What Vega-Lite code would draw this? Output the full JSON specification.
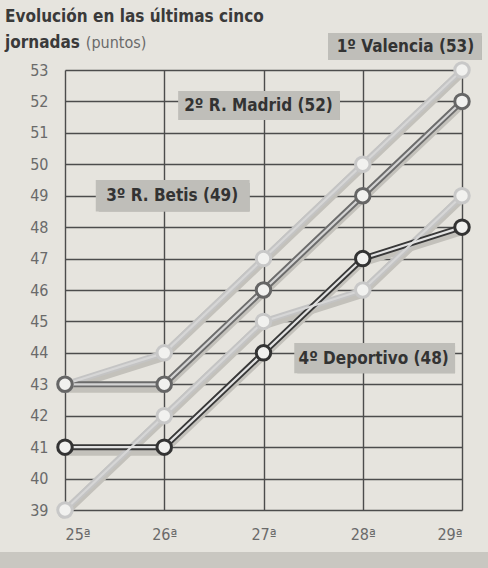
{
  "$schema": "https://vega.github.io/schema/vega-lite/v6.json",
  "autosize": {"type": "none"},
  "width": 397,
  "height": 440,
  "padding": {"left": 65, "top": 70, "right": 26, "bottom": 58},
  "background": "#e6e4de",
  "title": {
    "text": ["Evolución en las últimas cinco", "jornadas"],
    "anchor": "start",
    "frame": "group",
    "dx": -60,
    "dy": 31,
    "offset": 12,
    "font": "Liberation Sans Narrow, DejaVu Sans Condensed, sans-serif",
    "fontSize": 17,
    "fontWeight": "bold",
    "color": "#3a3a3a",
    "lineHeight": 26
  },
  "datasets": {
    "teams": [
      {"series": "Valencia", "round": 25, "points": 43},
      {"series": "Valencia", "round": 26, "points": 44},
      {"series": "Valencia", "round": 27, "points": 47},
      {"series": "Valencia", "round": 28, "points": 50},
      {"series": "Valencia", "round": 29, "points": 53},
      {"series": "Betis", "round": 25, "points": 39},
      {"series": "Betis", "round": 26, "points": 42},
      {"series": "Betis", "round": 27, "points": 45},
      {"series": "Betis", "round": 28, "points": 46},
      {"series": "Betis", "round": 29, "points": 49},
      {"series": "Madrid", "round": 25, "points": 43},
      {"series": "Madrid", "round": 26, "points": 43},
      {"series": "Madrid", "round": 27, "points": 46},
      {"series": "Madrid", "round": 28, "points": 49},
      {"series": "Madrid", "round": 29, "points": 52},
      {"series": "Deportivo", "round": 25, "points": 41},
      {"series": "Deportivo", "round": 26, "points": 41},
      {"series": "Deportivo", "round": 27, "points": 44},
      {"series": "Deportivo", "round": 28, "points": 47},
      {"series": "Deportivo", "round": 29, "points": 48}
    ],
    "labels": [
      {"label": "1º Valencia (53)", "x1": 27.65, "x2": 29.2, "y1": 54.18, "y2": 53.32, "tx": 28.43, "ty": 53.74},
      {"label": "2º R. Madrid (52)", "x1": 26.14, "x2": 27.77, "y1": 52.33, "y2": 51.41, "tx": 26.95, "ty": 51.86},
      {"label": "3º R. Betis (49)", "x1": 25.31, "x2": 26.86, "y1": 49.5, "y2": 48.5, "tx": 26.08, "ty": 48.99},
      {"label": "4º Deportivo (48)", "x1": 27.31, "x2": 28.93, "y1": 44.31, "y2": 43.35, "tx": 28.11, "ty": 43.82}
    ]
  },
  "layer": [
    {
      "data": {"values": [{"x1": 24.3, "x2": 29.4, "y1": 37.66, "y2": 36.9}]},
      "mark": {"type": "rect", "color": "#c9c7c1", "clip": false},
      "encoding": {
        "x": {
          "field": "x1", "type": "quantitative",
          "scale": {"domain": [25, 29], "nice": false, "zero": false},
          "axis": {
            "title": null, "values": [25, 26, 27, 28, 29], "tickCount": 10,
            "labelExpr": "format(datum.value, 'd') + 'ª'",
            "domain": false, "ticks": false, "grid": true,
            "labelPadding": 16, "labelOverlap": false
          }
        },
        "x2": {"field": "x2"},
        "y": {
          "field": "y1", "type": "quantitative",
          "scale": {"domain": [39, 53], "nice": false, "zero": false},
          "axis": {
            "title": null, "tickCount": 20, "format": "d",
            "values": [39, 40, 41, 42, 43, 44, 45, 46, 47, 48, 49, 50, 51, 52, 53],
            "domain": false, "ticks": false, "grid": true,
            "labelPadding": 17, "labelOverlap": false
          }
        },
        "y2": {"field": "y2"}
      }
    },
    {
      "data": {"name": "teams"},
      "mark": {"type": "line", "strokeWidth": 9, "color": "#c3c1bb", "yOffset": 4, "xOffset": -2, "strokeCap": "round", "strokeJoin": "round"},
      "encoding": {
        "x": {"field": "round", "type": "quantitative", "title": null},
        "y": {"field": "points", "type": "quantitative", "title": null},
        "detail": {"field": "series"}
      }
    },
    {
      "data": {"name": "teams"},
      "mark": {"type": "line", "strokeWidth": 6, "strokeCap": "round", "strokeJoin": "round"},
      "encoding": {
        "x": {"field": "round", "type": "quantitative", "title": null},
        "y": {"field": "points", "type": "quantitative", "title": null},
        "color": {
          "field": "series", "type": "nominal", "legend": null,
          "scale": {"domain": ["Valencia", "Betis", "Madrid", "Deportivo"], "range": ["#c4c4c4", "#c4c4c4", "#6c6c6c", "#383838"]}
        }
      }
    },
    {
      "data": {"name": "teams"},
      "mark": {"type": "line", "strokeWidth": 2.2, "strokeCap": "round", "strokeJoin": "round"},
      "encoding": {
        "x": {"field": "round", "type": "quantitative", "title": null},
        "y": {"field": "points", "type": "quantitative", "title": null},
        "color": {
          "field": "series", "type": "nominal", "legend": null,
          "scale": {"domain": ["Valencia", "Betis", "Madrid", "Deportivo"], "range": ["#d6d6d6", "#d6d6d6", "#d4d4d4", "#e2e2e2"]}
        }
      }
    },
    {
      "data": {"name": "teams"},
      "mark": {"type": "point", "shape": "circle", "filled": false, "fill": "#f1f1ef", "fillOpacity": 1, "size": 210, "strokeWidth": 3, "opacity": 1},
      "encoding": {
        "x": {"field": "round", "type": "quantitative", "title": null},
        "y": {"field": "points", "type": "quantitative", "title": null},
        "stroke": {
          "field": "series", "type": "nominal", "legend": null,
          "scale": {"domain": ["Valencia", "Betis", "Madrid", "Deportivo"], "range": ["#c8c8c8", "#c8c8c8", "#666666", "#333333"]}
        }
      }
    },
    {
      "data": {"name": "labels"},
      "mark": {"type": "rect", "color": "#a9a8a3", "xOffset": 3, "yOffset": 3, "clip": false},
      "encoding": {
        "x": {"field": "x1", "type": "quantitative", "title": null},
        "x2": {"field": "x2"},
        "y": {"field": "y1", "type": "quantitative", "title": null},
        "y2": {"field": "y2"}
      }
    },
    {
      "data": {"name": "labels"},
      "mark": {"type": "rect", "color": "#bfbeb9", "clip": false},
      "encoding": {
        "x": {"field": "x1", "type": "quantitative", "title": null},
        "x2": {"field": "x2"},
        "y": {"field": "y1", "type": "quantitative", "title": null},
        "y2": {"field": "y2"}
      }
    },
    {
      "data": {"name": "labels"},
      "mark": {"type": "text", "font": "Liberation Sans Narrow, DejaVu Sans Condensed, sans-serif", "fontSize": 17, "fontWeight": "bold", "color": "#333333", "align": "center", "baseline": "middle"},
      "encoding": {
        "x": {"field": "tx", "type": "quantitative", "title": null},
        "y": {"field": "ty", "type": "quantitative", "title": null},
        "text": {"field": "label"}
      }
    },
    {
      "data": {"values": [{"t": "(puntos)", "tx": 25.21, "ty": 53.86}]},
      "mark": {"type": "text", "font": "Liberation Sans Narrow, DejaVu Sans Condensed, sans-serif", "fontSize": 16, "color": "#6a6a6a", "align": "left", "baseline": "middle"},
      "encoding": {
        "x": {"field": "tx", "type": "quantitative", "title": null},
        "y": {"field": "ty", "type": "quantitative", "title": null},
        "text": {"field": "t"}
      }
    }
  ],
  "resolve": {"scale": {"color": "independent", "stroke": "independent"}},
  "config": {
    "view": {"stroke": null},
    "axis": {
      "gridColor": "#4c4c4c",
      "gridWidth": 1.4,
      "gridOpacity": 1,
      "labelFont": "Liberation Sans Narrow, DejaVu Sans Condensed, sans-serif",
      "labelFontSize": 16,
      "labelColor": "#6a6a6a",
      "labelOverlap": false
    },
    "axisY": {"tickCount": 20},
    "axisX": {"tickCount": 10}
  }
}
